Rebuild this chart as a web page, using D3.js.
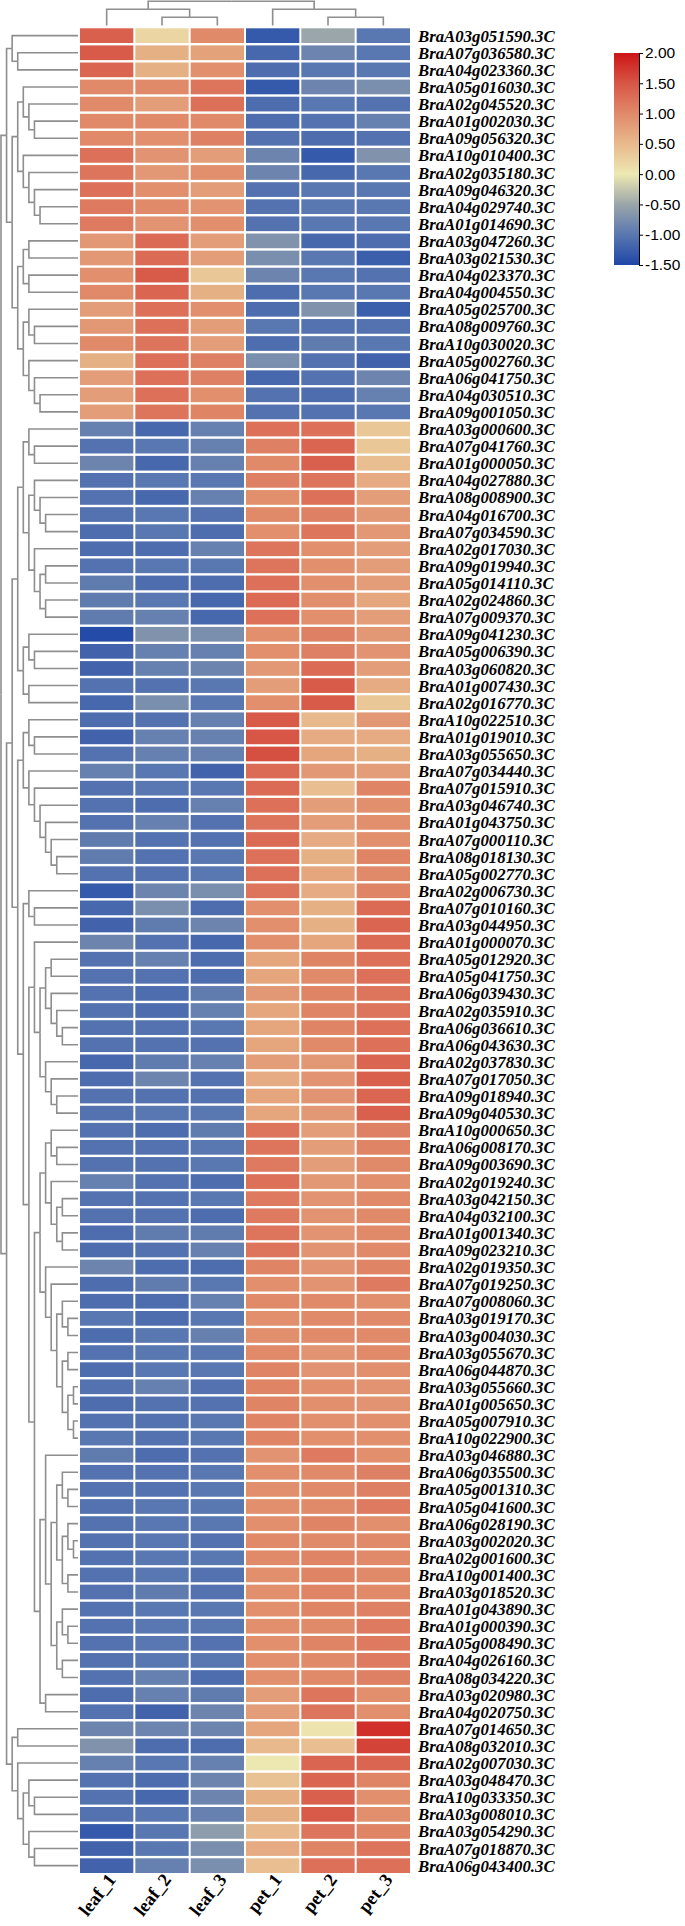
<!DOCTYPE html>
<html><head><meta charset="utf-8">
<script src="https://cdn.jsdelivr.net/npm/d3@7"></script>
<style>body{margin:0;background:#fff}</style>
</head><body>
<svg id="chart" width="685" height="1926"></svg>
<script>
const columns = ["leaf_1","leaf_2","leaf_3","pet_1","pet_2","pet_3"];
const genes = ["BraA03g051590.3C","BraA07g036580.3C","BraA04g023360.3C","BraA05g016030.3C","BraA02g045520.3C","BraA01g002030.3C","BraA09g056320.3C","BraA10g010400.3C","BraA02g035180.3C","BraA09g046320.3C","BraA04g029740.3C","BraA01g014690.3C","BraA03g047260.3C","BraA03g021530.3C","BraA04g023370.3C","BraA04g004550.3C","BraA05g025700.3C","BraA08g009760.3C","BraA10g030020.3C","BraA05g002760.3C","BraA06g041750.3C","BraA04g030510.3C","BraA09g001050.3C","BraA03g000600.3C","BraA07g041760.3C","BraA01g000050.3C","BraA04g027880.3C","BraA08g008900.3C","BraA04g016700.3C","BraA07g034590.3C","BraA02g017030.3C","BraA09g019940.3C","BraA05g014110.3C","BraA02g024860.3C","BraA07g009370.3C","BraA09g041230.3C","BraA05g006390.3C","BraA03g060820.3C","BraA01g007430.3C","BraA02g016770.3C","BraA10g022510.3C","BraA01g019010.3C","BraA03g055650.3C","BraA07g034440.3C","BraA07g015910.3C","BraA03g046740.3C","BraA01g043750.3C","BraA07g000110.3C","BraA08g018130.3C","BraA05g002770.3C","BraA02g006730.3C","BraA07g010160.3C","BraA03g044950.3C","BraA01g000070.3C","BraA05g012920.3C","BraA05g041750.3C","BraA06g039430.3C","BraA02g035910.3C","BraA06g036610.3C","BraA06g043630.3C","BraA02g037830.3C","BraA07g017050.3C","BraA09g018940.3C","BraA09g040530.3C","BraA10g000650.3C","BraA06g008170.3C","BraA09g003690.3C","BraA02g019240.3C","BraA03g042150.3C","BraA04g032100.3C","BraA01g001340.3C","BraA09g023210.3C","BraA02g019350.3C","BraA07g019250.3C","BraA07g008060.3C","BraA03g019170.3C","BraA03g004030.3C","BraA03g055670.3C","BraA06g044870.3C","BraA03g055660.3C","BraA01g005650.3C","BraA05g007910.3C","BraA10g022900.3C","BraA03g046880.3C","BraA06g035500.3C","BraA05g001310.3C","BraA05g041600.3C","BraA06g028190.3C","BraA03g002020.3C","BraA02g001600.3C","BraA10g001400.3C","BraA03g018520.3C","BraA01g043890.3C","BraA01g000390.3C","BraA05g008490.3C","BraA04g026160.3C","BraA08g034220.3C","BraA03g020980.3C","BraA04g020750.3C","BraA07g014650.3C","BraA08g032010.3C","BraA02g007030.3C","BraA03g048470.3C","BraA10g033350.3C","BraA03g008010.3C","BraA03g054290.3C","BraA07g018870.3C","BraA06g043400.3C"];

// z-scores per gene: leaf_1, leaf_2, leaf_3, pet_1, pet_2, pet_3
const expr = [
[1.4,0.2,1.0,-1.3,-0.5,-1.0],[1.45,0.6,0.75,-1.15,-0.85,-1.0],[1.35,0.6,0.95,-1.1,-1.0,-1.0],
[1.0,1.0,1.2,-1.3,-0.85,-0.75],[1.0,0.8,1.25,-1.1,-1.0,-1.05],[1.0,1.0,1.0,-1.1,-1.05,-0.9],
[1.0,0.95,1.1,-1.05,-1.1,-1.05],[1.25,0.9,0.8,-0.85,-1.3,-0.7],[1.2,0.85,0.95,-0.85,-1.15,-1.0],
[1.25,0.95,0.8,-1.05,-1.0,-1.0],[1.15,1.0,0.9,-1.05,-1.0,-1.0],[1.15,0.9,0.95,-1.05,-1.0,-1.0],
[0.85,1.3,0.8,-0.7,-1.15,-1.1],[0.85,1.3,0.8,-0.75,-1.0,-1.25],[0.95,1.45,0.35,-0.85,-1.0,-1.05],
[1.0,1.35,0.6,-1.1,-1.0,-1.0],[0.8,1.25,0.95,-1.1,-0.7,-1.25],[0.85,1.25,0.8,-1.0,-1.05,-1.05],
[1.0,1.2,0.8,-1.1,-0.95,-1.0],[0.6,1.25,1.1,-0.75,-1.05,-1.2],[0.8,1.25,1.1,-1.15,-1.05,-0.85],
[0.8,1.25,0.95,-1.05,-1.1,-0.9],[0.8,1.2,1.05,-1.05,-1.05,-1.0],
[-0.9,-1.15,-0.9,1.25,1.25,0.35],[-1.05,-1.0,-0.9,1.1,1.35,0.35],[-0.85,-1.15,-0.9,1.0,1.4,0.45],
[-1.05,-1.0,-1.0,1.1,1.2,0.65],[-1.05,-1.15,-0.9,0.95,1.25,0.8],[-1.05,-1.0,-1.05,1.0,1.1,0.85],
[-1.1,-1.0,-1.1,0.95,1.2,0.85],[-1.1,-1.1,-0.9,1.2,0.95,0.8],[-1.05,-1.0,-1.0,1.2,0.95,0.8],
[-0.95,-1.1,-1.1,1.25,0.95,0.8],[-0.95,-1.0,-1.15,1.3,0.95,0.7],[-0.95,-0.9,-1.15,1.25,0.95,0.8],
[-1.45,-0.7,-0.75,0.95,1.1,0.85],[-1.2,-0.9,-0.9,0.95,1.1,0.9],[-1.2,-0.9,-0.85,0.85,1.3,0.8],
[-1.05,-1.05,-1.0,0.8,1.45,0.65],[-1.15,-0.75,-1.0,0.95,1.45,0.35],[-1.1,-1.05,-0.9,1.45,0.5,0.85],
[-1.2,-0.9,-0.9,1.5,0.65,0.65],[-1.05,-0.9,-0.9,1.55,0.7,0.6],[-0.9,-1.0,-1.2,1.3,0.85,0.8],
[-1.05,-1.0,-1.0,1.3,0.45,1.05],[-1.05,-1.1,-0.9,1.25,0.8,0.95],[-1.05,-0.9,-1.05,1.2,0.8,0.95],
[-0.95,-1.05,-1.05,1.3,0.65,0.95],[-0.95,-1.05,-1.0,1.25,0.6,1.05],[-1.05,-1.05,-1.0,1.25,0.7,1.0],
[-1.3,-0.85,-0.75,1.2,0.65,1.05],[-1.15,-0.75,-1.1,0.95,0.6,1.3],[-1.2,-0.95,-0.85,0.95,0.6,1.35],
[-0.85,-1.05,-1.15,0.95,0.7,1.3],[-1.05,-0.9,-1.1,0.7,1.05,1.25],[-1.05,-1.05,-1.1,0.7,1.0,1.25],
[-1.05,-1.1,-0.95,0.85,1.05,1.2],[-1.05,-1.1,-0.9,0.7,1.05,1.2],[-1.05,-1.05,-1.0,0.7,1.05,1.25],
[-1.05,-1.05,-1.05,0.7,1.0,1.25],[-1.15,-0.95,-0.9,0.8,0.85,1.35],[-1.1,-0.85,-1.05,0.65,0.9,1.4],
[-1.05,-1.05,-1.05,0.7,0.9,1.35],[-1.05,-1.0,-1.0,0.7,0.85,1.4],[-1.05,-1.1,-0.95,1.2,0.8,1.1],
[-1.05,-1.05,-1.0,1.2,0.8,1.05],[-1.05,-1.05,-1.0,1.15,0.8,1.0],[-0.9,-1.05,-1.1,1.25,0.85,0.95],
[-1.05,-1.05,-1.0,1.15,0.9,1.0],[-1.05,-1.05,-1.1,1.15,0.9,1.0],[-1.1,-0.95,-0.95,1.2,0.9,1.0],
[-1.1,-1.05,-0.9,1.2,0.9,1.0],[-0.85,-1.1,-1.1,1.05,0.9,1.05],[-1.1,-0.95,-1.0,0.95,0.9,1.15],
[-1.1,-1.1,-0.9,1.0,1.0,0.95],[-1.0,-1.1,-1.0,0.95,1.0,1.0],[-1.1,-1.0,-0.9,0.95,1.0,1.0],
[-1.05,-1.0,-1.0,1.0,0.9,1.0],[-1.1,-1.0,-1.0,1.05,0.9,0.95],[-1.05,-0.9,-1.05,1.05,0.95,0.9],
[-1.1,-1.05,-1.05,1.05,0.95,0.9],[-1.05,-1.05,-1.0,1.05,0.95,0.95],[-1.0,-1.05,-1.0,1.05,0.95,0.95],
[-0.95,-1.1,-1.05,0.9,1.15,0.95],[-1.05,-1.05,-1.0,0.95,1.0,1.1],[-1.05,-1.05,-1.0,0.95,1.0,1.1],
[-1.05,-1.0,-1.0,0.95,1.0,1.15],[-1.05,-1.0,-1.0,0.95,1.05,0.95],[-1.05,-1.0,-1.05,1.0,1.0,1.0],
[-1.05,-1.0,-1.0,1.0,1.05,1.0],[-1.05,-1.0,-1.05,0.95,1.05,1.0],[-1.05,-0.95,-1.05,0.95,1.05,1.0],
[-1.05,-1.0,-1.0,0.95,1.05,1.1],[-1.05,-1.0,-1.0,0.95,1.0,1.15],[-1.05,-1.0,-1.05,0.95,1.05,1.15],
[-1.05,-1.0,-1.0,0.95,1.0,1.15],[-1.05,-0.9,-1.1,0.95,1.0,1.1],[-1.1,-0.9,-0.95,0.8,1.2,0.95],
[-1.05,-1.2,-0.85,0.8,1.2,0.95],
[-0.85,-0.85,-0.85,0.7,0.05,1.8],[-0.7,-1.1,-1.1,0.5,0.45,1.65],[-0.9,-1.0,-0.9,0.0,1.35,1.35],
[-1.05,-1.1,-0.85,0.4,1.35,1.05],[-1.05,-1.15,-0.85,0.6,1.4,0.95],[-1.05,-1.0,-0.9,0.6,1.45,0.95],
[-1.3,-1.0,-0.6,0.5,1.2,1.05],[-1.2,-1.0,-0.75,0.65,1.05,1.2],[-1.2,-0.9,-0.75,0.45,1.25,1.25]
];

// row dendrogram topology (1-based row numbers)
const rowTree = [
 [[1,[2,3]], [[[4,[5,[6,7]]],[8,[9,[10,[11,12]]]]], [[[13,14],[15,16]], [[17,[18,19]],[20,[21,[22,23]]]]]]],
 [
  [
   [ [[24,[25,26]], [[27,[28,[29,30]]], [31,[[32,33],[34,35]]]]], [[36,[37,38]],[39,40]] ],
   [ [[41,[42,43]],[44,[45,[46,[47,[48,[49,50]]]]]]],
     [ [51,[52,53]],
       [ [54, [ [[55,56],[57,[58,[59,60]]]], [61,[62,[63,64]]] ]],
         [ [ [[65,[66,67]],[68,[[69,70],[71,72]]]], [73,[74,[[75,[76,77]],[[78,79],[[80,81],[82,83]]]]]] ],
           [ [84, [ [[85,[86,87]],[[88,[89,90]],[91,92]]], [[93,[94,95]],[96,97]] ]], [98,99] ] ] ] ] ]
  ],
  [[100,101],[102,[[103,[104,105]],[106,[107,108]]]]]
 ]
];
const colTree = [[1,[2,3]],[4,[5,6]]];

const legendTicks = [2, 1.5, 1, 0.5, 0, -0.5, -1, -1.5];
const colorStops = [-1.5, -1, -0.5, 0, 0.5, 1, 1.5, 2];
const colorRange = ["#1f46a7","#5977b0","#9ba6aa","#ede8b2","#e8b98c","#e08a6a","#d75646","#cc1616"];

const svg = d3.select("#chart");
const color = d3.scaleLinear().domain(colorStops).range(colorRange).interpolate(d3.interpolateRgb).clamp(true);

const x = d3.scaleBand().domain(columns).range([80, 410]).paddingInner(0.036);
const y = d3.scaleBand().domain(genes).range([28.3, 1873]).paddingInner(0.14);
const lineColor = "#8e8e8e";

// heatmap cells
const cells = [];
genes.forEach((g, i) => columns.forEach((c, j) => cells.push({g, c, v: expr[i][j]})));
svg.append("g").selectAll("rect").data(cells).join("rect")
  .attr("x", d => x(d.c)).attr("y", d => y(d.g))
  .attr("width", x.bandwidth()).attr("height", y.bandwidth())
  .attr("fill", d => color(d.v));

// row labels
svg.append("g").selectAll("text").data(genes).join("text")
  .attr("x", 418).attr("y", d => y(d) + y.bandwidth() / 2)
  .attr("dy", "0.36em")
  .attr("font-family", "'Liberation Serif','Times New Roman',serif")
  .attr("font-weight", "bold").attr("font-style", "italic")
  .attr("font-size", 16.8).attr("fill", "#000")
  .text(d => d);

// row dendrogram
const kids = d => Array.isArray(d) ? d : null;
const rootR = d3.hierarchy(rowTree, kids);
const depthX = d3.scaleLinear().domain([0, 13]).range([1, 73.5]);
const leafX = 78;
rootR.eachAfter(n => {
  if (!n.children) { n.py = y(genes[n.data - 1]) + y.bandwidth() / 2; n.px = leafX; }
  else { n.py = d3.mean(n.children, c => c.py); n.px = depthX(n.depth); }
});
svg.append("g").selectAll("path").data(rootR.links()).join("path")
  .attr("d", l => `M${l.target.px},${l.target.py}H${l.source.px}V${l.source.py}`)
  .attr("fill", "none").attr("stroke", lineColor).attr("stroke-width", 1.6);

// column dendrogram
const rootC = d3.hierarchy(colTree, kids);
const depthY = d3.scaleLinear().domain([0, 2]).range([1.2, 17.3]);
rootC.eachAfter(n => {
  if (!n.children) { n.px = x(columns[n.data - 1]) + x.bandwidth() / 2; n.py = 25.5; }
  else { n.px = d3.mean(n.children, c => c.px); n.py = depthY(n.depth); }
});
svg.append("g").selectAll("path").data(rootC.links()).join("path")
  .attr("d", l => `M${l.target.px},${l.target.py}V${l.source.py}H${l.source.px}`)
  .attr("fill", "none").attr("stroke", lineColor).attr("stroke-width", 1.6);

// column labels
svg.append("g").selectAll("text").data(columns).join("text")
  .attr("transform", d => `translate(${x(d) + x.bandwidth() / 2 + 10},${1880}) rotate(-52)`)
  .attr("text-anchor", "end")
  .attr("font-family", "'Liberation Serif','Times New Roman',serif")
  .attr("font-weight", "bold").attr("font-size", 18.5).attr("fill", "#000")
  .text(d => d);

// legend
const lg = d3.scaleLinear().domain([-1.5, 2]).range([265, 53]);
const defs = svg.append("defs");
const grad = defs.append("linearGradient").attr("id", "lgrad")
  .attr("x1", 0).attr("y1", 1).attr("x2", 0).attr("y2", 0);
grad.selectAll("stop").data(colorStops).join("stop")
  .attr("offset", d => (d - (-1.5)) / 3.5)
  .attr("stop-color", d => color(d));
svg.append("rect").attr("x", 614).attr("y", lg(2)).attr("width", 25)
  .attr("height", lg(-1.5) - lg(2)).attr("fill", "url(#lgrad)");
const ax = svg.append("g").attr("transform", "translate(639,0)")
  .call(d3.axisRight(lg).tickValues(legendTicks).tickFormat(d => d.toFixed(2)).tickSize(4).tickSizeOuter(0));
ax.selectAll("text").attr("font-family", "'Liberation Sans',Arial,sans-serif").attr("font-size", 15.5).attr("fill", "#000").attr("x", 6);
ax.selectAll("line").attr("stroke", "#000");
ax.select(".domain").attr("stroke", "#000");
</script>
</body></html>
